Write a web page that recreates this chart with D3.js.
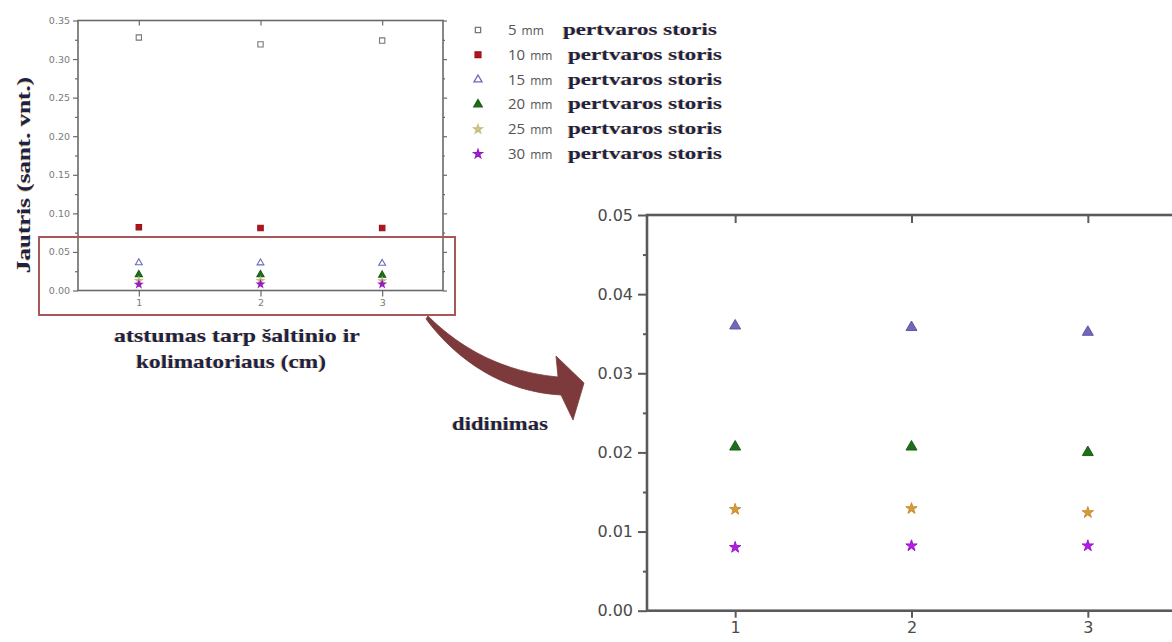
<!DOCTYPE html>
<html><head><meta charset="utf-8">
<script src="https://cdn.jsdelivr.net/npm/d3@7"></script>
<style>
html,body{margin:0;padding:0;background:#fff;}
svg{display:block;}
</style></head>
<body>
<svg id="chart" width="1172" height="642"></svg>
<script>
// ---- data ----
const distances = [1, 2, 3];
const seriesNames = ["5", "10", "15", "20", "25", "30"];
const values5  = [0.328, 0.319, 0.324];
const values10 = [0.082, 0.081, 0.081];
const values15 = [0.0360, 0.0358, 0.0352];
const values20 = [0.0207, 0.0207, 0.0200];
const values25 = [0.0128, 0.0129, 0.0124];
const values30 = [0.0080, 0.0082, 0.0082];
const smallYTicks = [0, 0.05, 0.10, 0.15, 0.20, 0.25, 0.30, 0.35];
const zoomYTicks = [0, 0.01, 0.02, 0.03, 0.04, 0.05];
const xTicks = [1, 2, 3];
const legendSuffix = "pertvaros storis";
const yTitle = "Jautris (sant. vnt.)";
const xTitle1 = "atstumas tarp šaltinio ir";
const xTitle2 = "kolimatoriaus (cm)";
const zoomTitle = "didinimas";

const allValues = [values5, values10, values15, values20, values25, values30];
const symbols = [d3.symbolSquare, d3.symbolSquare, d3.symbolTriangle, d3.symbolTriangle, d3.symbolStar, d3.symbolStar];
const smallStyle = [
  {fill:"#fff", stroke:"#777"},
  {fill:"#b3141b", stroke:"#9a1015"},
  {fill:"#fff", stroke:"#6f68b8"},
  {fill:"#1f6e1a", stroke:"#1a5e16"},
  {fill:"#d4c98f", stroke:"#c8bb7a"},
  {fill:"#a51ed6", stroke:"#9318c0"}
];
const zoomStyle = [
  null, null,
  {fill:"#7069b8", stroke:"#5d57a6"},
  {fill:"#1f6e1a", stroke:"#18601a"},
  {fill:"#d49a3c", stroke:"#c88e30"},
  {fill:"#b01ee0", stroke:"#a016d0"}
];

const svg = d3.select("#chart");
const serif = "'Liberation Serif', 'Times New Roman', serif";
const navy = "#1b2246";

function fringeText(g, x, y, txt, size, len) {
  const make = (dx, col, op) => {
    const t = g.append("text").attr("x", x + dx).attr("y", y)
      .attr("font-family", serif).attr("font-weight", "bold")
      .attr("font-size", size).attr("fill", col).attr("opacity", op)
      .attr("text-anchor", "middle").text(txt);
    if (len) t.attr("textLength", len).attr("lengthAdjust", "spacingAndGlyphs");
    return t;
  };
  make(-1, "#d09a3a", 0.55);
  make(0, navy, 1);
}

// ================= small chart =================
const sx = d3.scaleLinear().domain([0.5, 3.5]).range([78, 443]);
const sy = d3.scaleLinear().domain([0, 0.35]).range([290.5, 20.5]);
const small = svg.append("g");
const axCol = "#6a6a6a";

const yLeft = d3.axisLeft(sy).tickValues(smallYTicks).tickFormat(d3.format(".2f")).tickSize(5).tickPadding(3);
small.append("g").attr("transform", `translate(${sx.range()[0]},0)`).call(yLeft);
const yMinorVals = d3.range(0.025, 0.35, 0.05);
small.append("g").attr("transform", `translate(${sx.range()[0]},0)`).call(d3.axisLeft(sy).tickValues(yMinorVals).tickSize(3).tickFormat(""));
small.append("g").attr("transform", `translate(${sx.range()[1]},0)`).call(d3.axisLeft(sy).tickValues(smallYTicks).tickSize(-4).tickFormat(""));
small.append("g").attr("transform", `translate(${sx.range()[1]},0)`).call(d3.axisLeft(sy).tickValues(yMinorVals).tickSize(-2).tickFormat(""));
small.append("g").attr("transform", `translate(0,${sy.range()[0]})`).call(d3.axisBottom(sx).tickValues(xTicks).tickSize(6).tickPadding(3).tickFormat(d3.format("d")));
small.append("g").attr("transform", `translate(0,${sy.range()[1]})`).call(d3.axisTop(sx).tickValues(xTicks).tickSize(-5).tickFormat(""));
small.selectAll(".domain").remove();
small.selectAll(".tick line").attr("stroke", axCol).attr("stroke-width", 1.2);
small.selectAll(".tick text").attr("font-family", "'DejaVu Sans', sans-serif").attr("font-size", 9.5).attr("fill", "#7a7a7a");
small.append("rect").attr("x", sx.range()[0]).attr("y", sy.range()[1])
  .attr("width", sx.range()[1] - sx.range()[0]).attr("height", sy.range()[0] - sy.range()[1])
  .attr("fill", "none").attr("stroke", axCol).attr("stroke-width", 1.6);

const smallSizes = [28, 30, 20, 22, 14, 14];
allValues.forEach((vals, si) => {
  const sym = d3.symbol().type(symbols[si]).size(smallSizes[si]);
  small.append("g").selectAll("path").data(vals).join("path")
    .attr("transform", (d, i) => `translate(${sx(distances[i])},${sy(d)})`)
    .attr("d", sym)
    .attr("fill", smallStyle[si].fill).attr("stroke", smallStyle[si].stroke).attr("stroke-width", 1.1);
});

// red highlight box
svg.append("rect").attr("x", 39).attr("y", 237).attr("width", 416).attr("height", 78)
  .attr("fill", "none").attr("stroke", "#a85858").attr("stroke-width", 2);

// y title
const ytg = svg.append("g").attr("transform", "translate(30,175) rotate(-90)");
fringeText(ytg, 0, 0, yTitle, 19, 196);
// x title
fringeText(svg, 237, 342, xTitle1, 19, 246);
fringeText(svg, 231, 368, xTitle2, 19, 190);
// zoom title
fringeText(svg, 500, 430, zoomTitle, 18, 96);

// ================= legend =================
const legY = d3.scaleLinear().domain([0, 5]).range([30, 154]);
const legSizes = [28, 34, 28, 30, 22, 22];
const leg = svg.append("g");
seriesNames.forEach((name, si) => {
  const y = legY(si);
  const sym = d3.symbol().type(symbols[si]).size(legSizes[si]);
  leg.append("path").attr("transform", `translate(478,${y})`).attr("d", sym)
    .attr("fill", smallStyle[si].fill).attr("stroke", smallStyle[si].stroke).attr("stroke-width", 1.3);
  const t = leg.append("text").attr("x", 508).attr("y", y + 5).attr("fill", "#555")
    .attr("font-family", "'Open Sans', 'DejaVu Sans', sans-serif");
  t.append("tspan").attr("font-size", 15).text(name);
  t.append("tspan").attr("font-size", 12).attr("dx", 5).text("mm");
  const px = name.length === 1 ? 563 : 568;
  leg.append("text").attr("x", px - 1).attr("y", y + 5).attr("font-family", serif).attr("font-weight", "bold")
    .attr("font-size", 17).attr("fill", "#d09a3a").attr("opacity", 0.55)
    .attr("textLength", 154).attr("lengthAdjust", "spacingAndGlyphs").text(legendSuffix);
  leg.append("text").attr("x", px).attr("y", y + 5).attr("font-family", serif).attr("font-weight", "bold")
    .attr("font-size", 17).attr("fill", navy)
    .attr("textLength", 154).attr("lengthAdjust", "spacingAndGlyphs").text(legendSuffix);
});

// ================= arrow =================
svg.append("path")
  .attr("d", "M428,316 C462,350 505,372 558,377 L556,356 L584,383 L573,420 L561,395 C505,392 458,362 426,319 Z")
  .attr("fill", "#7d3a3c").attr("stroke", "#7d3a3c").attr("stroke-width", 0.8).attr("stroke-linejoin", "round");

// ================= zoom chart =================
const zx = d3.scaleLinear().domain([0.5, 3.5]).range([647, 1176]);
const zy = d3.scaleLinear().domain([0, 0.05]).range([610.7, 215]);
const zoom = svg.append("g");
const zCol = "#5a5a5a";
const zMinor = d3.range(0.005, 0.05, 0.01);
zoom.append("g").attr("transform", `translate(${zx.range()[0]},0)`)
  .call(d3.axisLeft(zy).tickValues(zoomYTicks).tickFormat(d3.format(".2f")).tickSize(9).tickPadding(5));
zoom.append("g").attr("transform", `translate(${zx.range()[0]},0)`)
  .call(d3.axisLeft(zy).tickValues(zMinor).tickSize(4).tickFormat(""));
zoom.append("g").attr("transform", `translate(${zx.range()[1]},0)`)
  .call(d3.axisLeft(zy).tickValues(zoomYTicks).tickSize(-5).tickFormat(""));
zoom.append("g").attr("transform", `translate(0,${zy.range()[0]})`)
  .call(d3.axisBottom(zx).tickValues(xTicks).tickSize(7).tickPadding(4).tickFormat(d3.format("d")));
zoom.append("g").attr("transform", `translate(0,${zy.range()[1]})`)
  .call(d3.axisTop(zx).tickValues(xTicks).tickSize(-8).tickFormat(""));
zoom.selectAll(".domain").remove();
zoom.selectAll(".tick line").attr("stroke", zCol).attr("stroke-width", 2);
zoom.selectAll(".tick text").attr("font-family", "'DejaVu Sans', sans-serif").attr("font-size", 16).attr("fill", "#4a4a4a");
zoom.append("rect").attr("x", zx.range()[0]).attr("y", zy.range()[1])
  .attr("width", zx.range()[1] - zx.range()[0]).attr("height", zy.range()[0] - zy.range()[1])
  .attr("fill", "none").attr("stroke", zCol).attr("stroke-width", 2.6);

allValues.forEach((vals, si) => {
  if (!zoomStyle[si]) return;
  if (vals.some(v => v > zy.domain()[1])) return;
  const sym = d3.symbol().type(symbols[si]).size(si >= 4 ? 40 : 52);
  zoom.append("g").selectAll("path").data(vals).join("path")
    .attr("transform", (d, i) => `translate(${zx(distances[i])},${zy(d)})`)
    .attr("d", sym)
    .attr("fill", zoomStyle[si].fill).attr("stroke", zoomStyle[si].stroke).attr("stroke-width", 1);
});
</script>
</body></html>
